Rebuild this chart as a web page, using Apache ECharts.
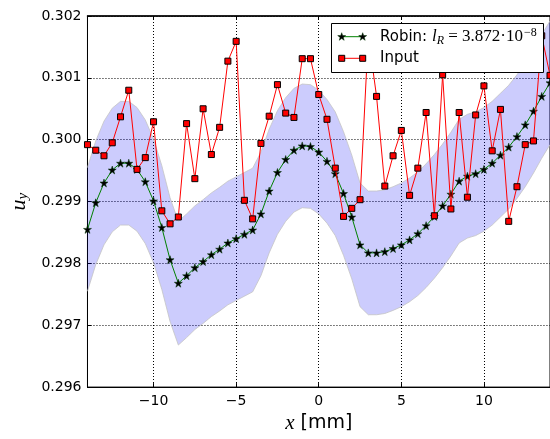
<!DOCTYPE html>
<html><head><meta charset="utf-8">
<script src="https://cdn.jsdelivr.net/npm/echarts@6/dist/echarts.min.js"></script>
<style>html,body{margin:0;padding:0;background:#fff}#c{width:550px;height:439px}</style>
</head><body><div id="c"></div>
<script>
const xValues = [-14,-13.5,-13,-12.5,-12,-11.5,-11,-10.5,-10,-9.5,-9,-8.5,-8,-7.5,-7,-6.5,-6,-5.5,-5,-4.5,-4,-3.5,-3,-2.5,-2,-1.5,-1,-0.5,0,0.5,1,1.5,2,2.5,3,3.5,4,4.5,5,5.5,6,6.5,7,7.5,8,8.5,9,9.5,10,10.5,11,11.5,12,12.5,13,13.5,14];
const inputValues = [0.29992,0.29983,0.29974,0.29995,0.30037,0.30080,0.29952,0.29971,0.30029,0.29885,0.29864,0.29875,0.30026,0.29937,0.30050,0.29976,0.30020,0.30127,0.30159,0.29902,0.29872,0.29994,0.30038,0.30089,0.30043,0.30036,0.30131,0.30131,0.30073,0.30033,0.29954,0.29876,0.29889,0.29903,0.30168,0.30070,0.29925,0.29974,0.30015,0.29910,0.29954,0.30044,0.29877,0.30105,0.29888,0.30044,0.29907,0.30040,0.30087,0.29982,0.30049,0.29868,0.29924,0.29992,0.29998,0.30168,0.30104];
const robinValues = [0.29855,0.29898,0.29930,0.29951,0.29962,0.29962,0.29952,0.29932,0.29901,0.29858,0.29806,0.29768,0.29780,0.29793,0.29803,0.29814,0.29823,0.29833,0.29840,0.29847,0.29854,0.29880,0.29917,0.29947,0.29968,0.29983,0.29990,0.29989,0.29980,0.29965,0.29945,0.29913,0.29875,0.29830,0.29817,0.29817,0.29819,0.29824,0.29830,0.29838,0.29848,0.29861,0.29876,0.29893,0.29912,0.29933,0.29941,0.29945,0.29952,0.29962,0.29975,0.29988,0.30005,0.30024,0.30046,0.30070,0.30092];
const bandUpper = [0.29955,0.29998,0.30030,0.30051,0.30062,0.30062,0.30052,0.30032,0.30001,0.29958,0.29906,0.29868,0.29880,0.29893,0.29903,0.29914,0.29923,0.29933,0.29940,0.29947,0.29954,0.29980,0.30017,0.30047,0.30068,0.30083,0.30090,0.30089,0.30080,0.30065,0.30045,0.30013,0.29975,0.29930,0.29917,0.29917,0.29919,0.29924,0.29930,0.29938,0.29948,0.29961,0.29976,0.29993,0.30012,0.30033,0.30041,0.30045,0.30052,0.30062,0.30075,0.30088,0.30105,0.30124,0.30146,0.30170,0.30192];
const bandLower = [0.29755,0.29798,0.29830,0.29851,0.29862,0.29862,0.29852,0.29832,0.29801,0.29758,0.29706,0.29668,0.29680,0.29693,0.29703,0.29714,0.29723,0.29733,0.29740,0.29747,0.29754,0.29780,0.29817,0.29847,0.29868,0.29883,0.29890,0.29889,0.29880,0.29865,0.29845,0.29813,0.29775,0.29730,0.29717,0.29717,0.29719,0.29724,0.29730,0.29738,0.29748,0.29761,0.29776,0.29793,0.29812,0.29833,0.29841,0.29845,0.29852,0.29862,0.29875,0.29888,0.29905,0.29924,0.29946,0.29970,0.29992];
const xTickValues = [-10,-5,0,5,10];

const pair = (ys) => xValues.map((x, i) => [x, ys[i]]);
const starPath = 'path://M50,0 L61.2,34.5 L97.6,34.5 L68.2,55.9 L79.4,90.5 L50,69.1 L20.6,90.5 L31.8,55.9 L2.4,34.5 L38.8,34.5 Z';
const fmtX = v => v < 0 ? '\u2212' + (-v) : String(v);
const grid = {left: 83, top: 16, width: 469, height: 376};

function starPoints(cx, cy, r) {
  const pts = [];
  for (let k = 0; k < 10; k++) {
    const a = -Math.PI / 2 + k * Math.PI / 5;
    const rr = k % 2 === 0 ? r : r * 0.4;
    pts.push([cx + rr * Math.cos(a), cy + rr * Math.sin(a)]);
  }
  return pts;
}

function renderBand(params, api) {
  const top = xValues.map((x, i) => api.coord([x, bandUpper[i]]));
  const bottom = xValues.map((x, i) => api.coord([x, bandLower[i]])).reverse();
  return {
    type: 'polygon',
    shape: {points: top.concat(bottom)},
    style: {fill: 'rgba(0,0,245,0.2)', stroke: 'none'}
  };
}

const chart = echarts.init(document.getElementById('c'), null, {renderer: 'canvas'});
const axisFont = {fontFamily: 'DejaVu Sans', fontSize: 14, color: '#000'};
chart.setOption({
  animation: false,
  backgroundColor: '#fff',
  grid: Object.assign({show: true, borderColor: '#000', borderWidth: 1, backgroundColor: 'transparent'}, grid),
  xAxis: [{
    type: 'value', min: -14, max: 14, position: 'bottom',
    axisLine: {show: true, onZero: false, lineStyle: {color: '#000', width: 1}},
    axisTick: {show: true, inside: true, length: 4, customValues: xTickValues, lineStyle: {color: '#000'}},
    axisLabel: Object.assign({customValues: xTickValues, formatter: fmtX, margin: 7}, axisFont),
    splitLine: {show: true, lineStyle: {color: '#000', width: 1, type: [1, 2]}},
    name: '{i|x}{n| [mm]}', nameLocation: 'middle', nameGap: 22,
    nameTextStyle: {rich: {
      i: {fontFamily: 'Liberation Serif', fontStyle: 'italic', fontSize: 21, color: '#000'},
      n: {fontFamily: 'DejaVu Sans', fontSize: 19, color: '#000'}
    }}
  }, {
    type: 'value', min: -14, max: 14, position: 'top',
    axisLine: {show: true, onZero: false, lineStyle: {color: '#000', width: 1.5}},
    axisTick: {show: true, inside: true, length: 4, customValues: xTickValues, lineStyle: {color: '#000'}},
    axisLabel: {show: false},
    splitLine: {show: false}
  }],
  yAxis: [{
    type: 'value', min: 0.296, max: 0.302, interval: 0.001,
    axisLine: {show: true, onZero: false, lineStyle: {color: '#000', width: 1}},
    axisTick: {show: true, inside: true, length: 4, lineStyle: {color: '#000'}},
    axisLabel: Object.assign({formatter: v => v.toFixed(3), margin: 6}, axisFont),
    splitLine: {show: true, lineStyle: {color: '#000', width: 1, type: [1, 2]}},
    name: '{i|u}{s|y}', nameLocation: 'middle', nameRotate: 90, nameGap: 50,
    nameTextStyle: {rich: {
      i: {fontFamily: 'Liberation Serif', fontStyle: 'italic', fontSize: 22, color: '#000'},
      s: {fontFamily: 'Liberation Serif', fontStyle: 'italic', fontSize: 15, color: '#000', padding: [8, 0, 0, 0]}
    }}
  }],
  series: [{
    name: 'bandFill', type: 'custom', data: [[0, 0]], renderItem: renderBand,
    silent: true, z: 1, clip: true
  }, {
    name: 'bandUpper', type: 'line', data: pair(bandUpper), symbol: 'none', silent: true, z: 2,
    lineStyle: {color: '#c4c4c4', width: 0.8}
  }, {
    name: 'bandLower', type: 'line', data: pair(bandLower), symbol: 'none', silent: true, z: 2,
    lineStyle: {color: '#c4c4c4', width: 0.8}
  }, {
    name: 'Robin', type: 'line', data: pair(robinValues), z: 3,
    symbol: starPath, symbolSize: 8, showAllSymbol: true,
    lineStyle: {color: '#008000', width: 1},
    itemStyle: {color: '#000', borderColor: '#003300', borderWidth: 0.5}
  }, {
    name: 'Input', type: 'line', data: pair(inputValues), z: 4,
    symbol: 'rect', symbolSize: 6, showAllSymbol: true,
    lineStyle: {color: '#ff0000', width: 1},
    itemStyle: {color: '#ff0000', borderColor: '#000', borderWidth: 1}
  }],
  graphic: [
    {type: 'rect', z: 100, shape: {x: 331.5, y: 23.5, width: 212, height: 49}, style: {fill: '#fff', stroke: '#000', lineWidth: 1}},
    {type: 'line', z: 101, shape: {x1: 341.7, y1: 36.7, x2: 362.7, y2: 36.7}, style: {stroke: '#008000', lineWidth: 1}},
    {type: 'polygon', z: 102, shape: {points: starPoints(341.7, 36.9, 4.2)}, style: {fill: '#000', stroke: '#003300', lineWidth: 0.5}},
    {type: 'polygon', z: 102, shape: {points: starPoints(362.7, 36.9, 4.2)}, style: {fill: '#000', stroke: '#003300', lineWidth: 0.5}},
    {type: 'line', z: 101, shape: {x1: 341.7, y1: 58.3, x2: 362.7, y2: 58.3}, style: {stroke: '#ff0000', lineWidth: 1}},
    {type: 'rect', z: 102, shape: {x: 338.7, y: 55.3, width: 6, height: 6}, style: {fill: '#ff0000', stroke: '#000', lineWidth: 1}},
    {type: 'rect', z: 102, shape: {x: 359.7, y: 55.3, width: 6, height: 6}, style: {fill: '#ff0000', stroke: '#000', lineWidth: 1}},
    {type: 'text', z: 102, x: 380, y: 37, style: {
      text: '{n|Robin: }{i|l}{s|R}{m| = 3.872\u00b710}{p|\u22128}',
      verticalAlign: 'middle',
      rich: {
        n: {fontFamily: 'DejaVu Sans', fontSize: 15, fill: '#000'},
        i: {fontFamily: 'Liberation Serif', fontStyle: 'italic', fontSize: 17, fill: '#000'},
        s: {fontFamily: 'Liberation Serif', fontStyle: 'italic', fontSize: 12, fill: '#000', padding: [8, 0, 0, 0]},
        m: {fontFamily: 'Liberation Serif', fontSize: 17, fill: '#000'},
        p: {fontFamily: 'Liberation Serif', fontSize: 12, fill: '#000', padding: [0, 0, 9, 1]}
      }
    }},
    {type: 'text', z: 102, x: 380, y: 58.5, style: {
      text: 'Input', verticalAlign: 'middle', fontFamily: 'DejaVu Sans', fontSize: 15, fill: '#000'
    }}
  ]
});
</script>
</body></html>
